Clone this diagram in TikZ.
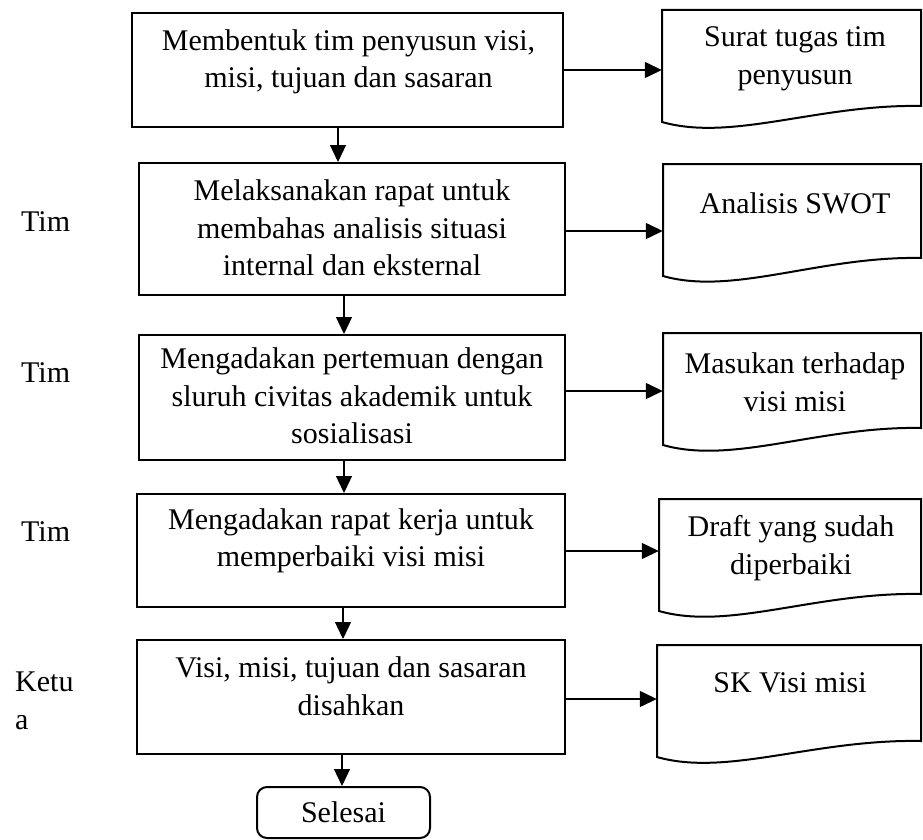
\documentclass[tikz,border=0pt]{standalone}
\usepackage{fontspec}
\setmainfont{Liberation Serif}
\usetikzlibrary{arrows.meta,fit,calc}
\tikzset{
  box/.style={draw, line width=2pt, inner sep=0pt},
  endbox/.style={draw, line width=2pt, inner sep=0pt, rounded corners=10pt},
  holder/.style={inner sep=0pt},
  txt/.style={align=center, inner sep=0pt, font=\fontsize{30}{37.5}\selectfont},
  lbl/.style={align=left, anchor=west, inner sep=0pt, font=\fontsize{30}{37.5}\selectfont},
  docline/.style={line width=2pt, line join=miter},
  arr/.style={line width=1.3pt, -{Triangle[length=17pt,width=16pt]}},
}
\newcommand\docshape[5]{%
  \node[holder, fit={(#2,#3) (921,#4)}] (#1) {};
  \draw[docline] (#2,#4) -- (#2,#3) -- (921,#3) -- (921,#5)
     .. controls ({#2+157},{#5-2}) and ({#2+70},{#4+20}) .. (#2,#4) -- cycle;
}
\begin{document}
\begin{tikzpicture}[x=1pt,y=-1pt]
\useasboundingbox (0,0) rectangle (923,840);

% main process boxes
\node[box, fit={(132,13) (563,127)}] (b1) {};
\node[box, fit={(139,163) (565,295)}] (b2) {};
\node[box, fit={(139,335) (565,460)}] (b3) {};
\node[box, fit={(137,494) (565,607)}] (b4) {};
\node[box, fit={(137,640) (565,754)}] (b5) {};
\node[endbox, fit={(257,787) (430,838)}] (end) {};

\node[txt] (t1) at (348.5,62) {Membentuk tim penyusun visi,\\misi, tujuan dan sasaran};
\node[txt] (t2) at (352,228) {Melaksanakan rapat untuk\\membahas analisis situasi\\internal dan eksternal};
\node[txt] (t3) at (352,396) {Mengadakan pertemuan dengan\\sluruh civitas akademik untuk\\sosialisasi};
\node[txt] (t4) at (351,541) {Mengadakan rapat kerja untuk\\memperbaiki visi misi};
\node[txt] (t5) at (351,686) {Visi, misi, tujuan dan sasaran\\disahkan};
\node[txt] (t6) at (343.5,812) {Selesai};

% documents
\docshape{d1}{662}{10}{122}{106}
\docshape{d2}{663}{164}{276}{258}
\docshape{d3}{663}{333}{445}{428}
\docshape{d4}{659}{499}{611}{594}
\docshape{d5}{657}{645}{757}{741}

\node[txt] (s1) at (795,59) {Surat tugas tim\\penyusun};
\node[txt] (s2) at (795,203) {Analisis SWOT};
\node[txt] (s3) at (795,382) {Masukan terhadap\\visi misi};
\node[txt] (s4) at (791,548) {Draft yang sudah\\diperbaiki};
\node[txt] (s5) at (790,683) {SK Visi misi};

% actor labels
\node[lbl] (a2) at (21,222) {Tim};
\node[lbl] (a3) at (21,373) {Tim};
\node[lbl] (a4) at (21,532) {Tim};
\node[lbl] (a5) at (15,701) {Ketu\\a};

% horizontal connectors
\coordinate (h1) at (0,70);
\coordinate (h2) at (0,231);
\coordinate (h3) at (0,391);
\coordinate (h4) at (0,551);
\coordinate (h5) at (0,699);
\draw[arr] (b1.east |- h1) -- (d1.west |- h1);
\draw[arr] (b2.east |- h2) -- (d2.west |- h2);
\draw[arr] (b3.east |- h3) -- (d3.west |- h3);
\draw[arr] (b4.east |- h4) -- (d4.west |- h4);
\draw[arr] (b5.east |- h5) -- (d5.west |- h5);

% vertical connectors
\draw[arr] ([xshift=-9.5pt]b1.south) -- ([xshift=-9.5pt]b1.south |- b2.north);
\draw[arr] ([xshift=-8pt]b2.south) -- ([xshift=-8pt]b2.south |- b3.north);
\draw[arr] ([xshift=-8pt]b3.south) -- ([xshift=-8pt]b3.south |- b4.north);
\draw[arr] ([xshift=-8pt]b4.south) -- ([xshift=-8pt]b4.south |- b5.north);
\draw[arr] ([xshift=-9pt]b5.south) -- ([xshift=-9pt]b5.south |- end.north);
\end{tikzpicture}
\end{document}
